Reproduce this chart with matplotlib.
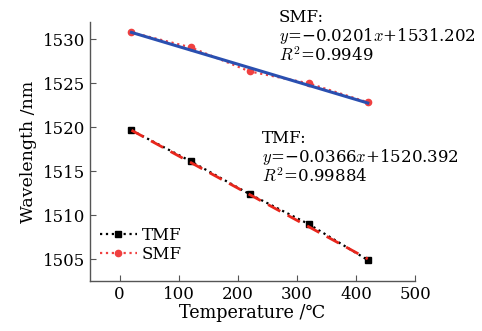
import numpy as np
import matplotlib.pyplot as plt

# Data
temp = [20, 120, 220, 320, 420]
tmf_wl = [1519.66, 1516.14, 1512.39, 1508.98, 1504.89]
smf_wl = [1530.80, 1529.10, 1526.36, 1525.00, 1522.84]

# Linear fits as printed on the chart
smf_k, smf_b = -0.0201, 1531.202
tmf_k, tmf_b = -0.0366, 1520.392
smf_r2 = "0.9949"
tmf_r2 = "0.99884"

x_ticks = [0, 100, 200, 300, 400, 500]
y_ticks = [1505, 1510, 1515, 1520, 1525, 1530]

plt.rcParams['font.family'] = ['DejaVu Serif', 'DejaVu Sans']
plt.rcParams['mathtext.fontset'] = 'cm'
plt.rcParams['font.size'] = 12

fig = plt.figure(figsize=(4.82, 3.31), dpi=100)
ax = fig.add_axes([0.187, 0.151, 0.674, 0.783])

x_fit = np.array([temp[0], temp[-1]])

# Data series
ax.plot(temp, tmf_wl, color='black', linestyle=':', linewidth=1.6,
        marker='s', markersize=4.2, label='TMF')
ax.plot(temp, smf_wl, color='#f04040', linestyle=':', linewidth=1.6,
        marker='o', markersize=4.5, label='SMF')

# Fit lines
ax.plot(x_fit, smf_k * x_fit + smf_b, color='#2a4fb0', linewidth=2.2)
ax.plot(x_fit, tmf_k * x_fit + tmf_b, color='#e8261c', linewidth=2.0,
        linestyle=(0, (5, 3)))

ax.set_xlim(-50, 500)
ax.set_ylim(1502.5, 1532)
ax.set_xticks(x_ticks)
ax.set_yticks(y_ticks)

for s in ['top', 'right']:
    ax.spines[s].set_visible(False)
for s in ['left', 'bottom']:
    ax.spines[s].set_color('#555555')
    ax.spines[s].set_linewidth(1.0)
ax.tick_params(direction='in', length=4, color='#555555', labelsize=12)

ax.set_xlabel('Temperature /\u2103', fontsize=12.7, labelpad=1)
ax.set_ylabel('Wavelength /nm', fontsize=12.5, labelpad=4)

# Fit annotations
ax.text(0.58, 1.05, 'SMF:\n$y$=\u22120.0201$x$+1531.202\n$R^2$=' + smf_r2,
        transform=ax.transAxes, va='top', ha='left', fontsize=12,
        linespacing=1.0)
ax.text(0.53, 0.582, 'TMF:\n$y$=\u22120.0366$x$+1520.392\n$R^2$=' + tmf_r2,
        transform=ax.transAxes, va='top', ha='left', fontsize=12,
        linespacing=1.0)

ax.legend(loc='lower left', bbox_to_anchor=(0.0, 0.03), frameon=False,
          handlelength=2.2, handletextpad=0.3, labelspacing=0.15,
          borderaxespad=0.2, fontsize=12)

fig.savefig('out.png', dpi=100)
